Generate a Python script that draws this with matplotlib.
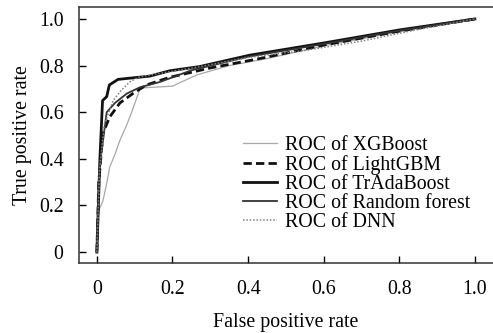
import matplotlib.pyplot as plt

plt.rcParams['font.family'] = ['Liberation Serif', 'DejaVu Serif']

# ROC points (false positive rate, true positive rate)
fpr_xgb = [0, 0.003, 0.016, 0.026, 0.034, 0.048, 0.061, 0.079, 0.092, 0.114, 0.125, 0.20, 0.264, 0.35, 0.45, 0.6, 0.8, 1.0]
tpr_xgb = [0, 0.17, 0.22, 0.295, 0.365, 0.42, 0.48, 0.545, 0.60, 0.70, 0.705, 0.712, 0.76, 0.80, 0.83, 0.885, 0.945, 1.0]

fpr_lgbm = [0, 0.005, 0.016, 0.034, 0.061, 0.095, 0.131, 0.193, 0.30, 0.43, 0.6, 0.8, 1.0]
tpr_lgbm = [0, 0.30, 0.51, 0.58, 0.64, 0.68, 0.717, 0.75, 0.79, 0.83, 0.888, 0.948, 1.0]

fpr_tra = [0, 0.008, 0.015, 0.026, 0.033, 0.056, 0.14, 0.193, 0.272, 0.405, 0.6, 0.8, 1.0]
tpr_tra = [0, 0.40, 0.65, 0.667, 0.717, 0.741, 0.755, 0.778, 0.796, 0.845, 0.897, 0.953, 1.0]

fpr_rf = [0, 0.006, 0.026, 0.048, 0.079, 0.114, 0.167, 0.25, 0.40, 0.6, 0.8, 1.0]
tpr_rf = [0, 0.35, 0.60, 0.64, 0.68, 0.707, 0.73, 0.78, 0.838, 0.893, 0.95, 1.0]

fpr_dnn = [0, 0.007, 0.02, 0.043, 0.065, 0.087, 0.109, 0.16, 0.27, 0.40, 0.55, 0.7, 0.85, 1.0]
tpr_dnn = [0, 0.35, 0.55, 0.65, 0.695, 0.73, 0.75, 0.765, 0.795, 0.835, 0.865, 0.905, 0.955, 1.0]

ticks = [0, 0.2, 0.4, 0.6, 0.8, 1.0]
tick_labels = ["0", "0.2", "0.4", "0.6", "0.8", "1.0"]

fs = 14.3

fig = plt.figure(figsize=(4.93, 3.33), dpi=100)
ax = fig.add_axes([0.160, 0.210, 0.840, 0.769])

ax.plot(fpr_xgb, tpr_xgb, color="#a8a8a8", lw=0.9, label="ROC of XGBoost")
ax.plot(fpr_lgbm, tpr_lgbm, color="#111111", lw=2.0, ls=(0, (3, 1.5)), label="ROC of LightGBM")
ax.plot(fpr_tra, tpr_tra, color="#111111", lw=2.0, label="ROC of TrAdaBoost")
ax.plot(fpr_rf, tpr_rf, color="#333333", lw=1.3, label="ROC of Random forest")
ax.plot(fpr_dnn, tpr_dnn, color="#808080", lw=1.1, ls=(0, (1, 1.2)), label="ROC of DNN")

ax.set_xlim(-0.0476, 1.048)
ax.set_ylim(-0.047, 1.0515)
ax.set_xticks(ticks)
ax.set_xticklabels(tick_labels)
ax.set_yticks(ticks)
ax.set_yticklabels(tick_labels)
ax.tick_params(direction="in", length=5, width=1, labelsize=fs)
ax.tick_params(axis="x", pad=12)
ax.tick_params(axis="y", pad=11)

ax.spines["right"].set_visible(False)
for s in ["left", "bottom", "top"]:
    ax.spines[s].set_linewidth(1.1)
    ax.spines[s].set_color("#333333")

ax.set_xlabel("False positive rate", fontsize=fs, labelpad=10)
ax.set_ylabel("True positive rate", fontsize=fs, labelpad=5)

ax.legend(loc="lower right", bbox_to_anchor=(0.944, 0.12), frameon=False, fontsize=fs,
          handlelength=1.7, handletextpad=0.4, labelspacing=0.0, borderaxespad=0, borderpad=0)

fig.savefig("out.png", dpi=100)
